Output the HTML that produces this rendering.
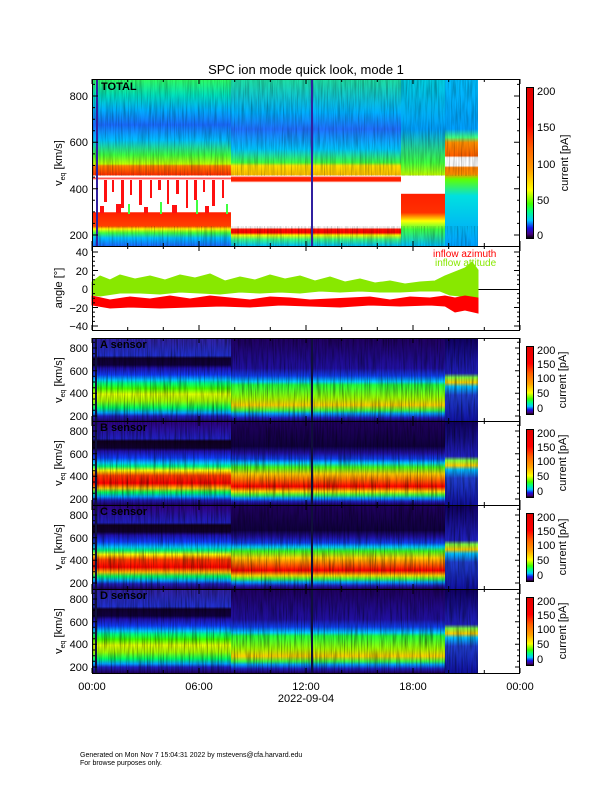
<!DOCTYPE html>
<html><head><meta charset="utf-8"><style>
body{margin:0;background:#fff;width:612px;height:792px;overflow:hidden}
svg{display:block}
text{font-family:"Liberation Sans",sans-serif;font-size:11px;fill:#000}
</style></head><body>
<svg width="612" height="792" viewBox="0 0 612 792" xmlns="http://www.w3.org/2000/svg">
<defs>
<linearGradient id="t1" x1="0" y1="0" x2="0" y2="1">
<stop offset="0" stop-color="#30ff60"/><stop offset=".10" stop-color="#00e0c0"/><stop offset=".186" stop-color="#00b0ff"/><stop offset=".275" stop-color="#1a6cff"/><stop offset=".365" stop-color="#00c0ff"/><stop offset=".455" stop-color="#40ff40"/><stop offset=".509" stop-color="#c0ff00"/><stop offset=".52" stop-color="#ff8000"/><stop offset=".575" stop-color="#ff3000"/><stop offset=".58" stop-color="#fff"/><stop offset=".588" stop-color="#fff"/><stop offset=".593" stop-color="#ff2020"/><stop offset=".605" stop-color="#fff"/><stop offset=".796" stop-color="#fff"/><stop offset=".8" stop-color="#ff2000"/><stop offset=".88" stop-color="#ff4000"/><stop offset=".898" stop-color="#ffff00"/><stop offset=".922" stop-color="#40ff40"/><stop offset=".952" stop-color="#00c0ff"/><stop offset="1" stop-color="#1a6cff"/></linearGradient>
<linearGradient id="t2" x1="0" y1="0" x2="0" y2="1">
<stop offset="0" stop-color="#20e0a0"/><stop offset=".2" stop-color="#00b0ff"/><stop offset=".3" stop-color="#2070ff"/><stop offset=".42" stop-color="#00c8ff"/><stop offset=".5" stop-color="#40ff40"/><stop offset=".52" stop-color="#ffe000"/><stop offset=".575" stop-color="#ffc000"/><stop offset=".58" stop-color="#fff"/><stop offset=".59" stop-color="#ff2000"/><stop offset=".61" stop-color="#ff2000"/><stop offset=".62" stop-color="#fff"/><stop offset=".89" stop-color="#fff"/><stop offset=".9" stop-color="#ff1000"/><stop offset=".92" stop-color="#ff0000"/><stop offset=".935" stop-color="#ffff00"/><stop offset=".96" stop-color="#40ff80"/><stop offset="1" stop-color="#00c0ff"/></linearGradient>
<linearGradient id="t3" x1="0" y1="0" x2="0" y2="1">
<stop offset="0" stop-color="#00d0e0"/><stop offset=".3" stop-color="#00a0ff"/><stop offset=".5" stop-color="#40ff40"/><stop offset=".575" stop-color="#c0ff00"/><stop offset=".58" stop-color="#fff"/><stop offset=".685" stop-color="#fff"/><stop offset=".69" stop-color="#ff2000"/><stop offset=".8" stop-color="#ff3000"/><stop offset=".85" stop-color="#ffff00"/><stop offset=".9" stop-color="#40ff40"/><stop offset="1" stop-color="#00c0ff"/></linearGradient>
<linearGradient id="t4" x1="0" y1="0" x2="0" y2="1">
<stop offset="0" stop-color="#00c0ff"/><stop offset=".3" stop-color="#00a0ff"/><stop offset=".35" stop-color="#40ff80"/><stop offset=".38" stop-color="#ff9000"/><stop offset=".46" stop-color="#ff6000"/><stop offset=".47" stop-color="#fff"/><stop offset=".52" stop-color="#fff"/><stop offset=".53" stop-color="#ff8000"/><stop offset=".57" stop-color="#ff9000"/><stop offset=".6" stop-color="#60ff00"/><stop offset=".7" stop-color="#00e0e0"/><stop offset="1" stop-color="#00a0ff"/></linearGradient>
<linearGradient id="sA1" x1="0" y1="0" x2="0" y2="1">
<stop offset="0" stop-color="#3020a0"/><stop offset=".21" stop-color="#2030d0"/><stop offset=".24" stop-color="#100030"/><stop offset=".32" stop-color="#100040"/><stop offset=".36" stop-color="#2010b0"/><stop offset=".44" stop-color="#1040ff"/><stop offset=".5" stop-color="#00c8ff"/><stop offset=".54" stop-color="#00ff80"/><stop offset=".6" stop-color="#40ff00"/><stop offset=".67" stop-color="#e0ff00"/><stop offset=".75" stop-color="#a0ff00"/><stop offset=".83" stop-color="#00ff60"/><stop offset=".89" stop-color="#00a0ff"/><stop offset=".93" stop-color="#2020c0"/><stop offset="1" stop-color="#200060"/></linearGradient>
<linearGradient id="sB1" x1="0" y1="0" x2="0" y2="1">
<stop offset="0" stop-color="#300080"/><stop offset=".21" stop-color="#2020c0"/><stop offset=".24" stop-color="#100020"/><stop offset=".32" stop-color="#100030"/><stop offset=".36" stop-color="#2010b0"/><stop offset=".44" stop-color="#1040ff"/><stop offset=".5" stop-color="#00c8ff"/><stop offset=".54" stop-color="#00ff80"/><stop offset=".59" stop-color="#ffff00"/><stop offset=".65" stop-color="#ff4000"/><stop offset=".74" stop-color="#ff0000"/><stop offset=".8" stop-color="#ffc000"/><stop offset=".85" stop-color="#00ff60"/><stop offset=".9" stop-color="#00a0ff"/><stop offset=".94" stop-color="#2020c0"/><stop offset="1" stop-color="#200060"/></linearGradient>
<linearGradient id="sA2" x1="0" y1="0" x2="0" y2="1">
<stop offset="0" stop-color="#200060"/><stop offset=".36" stop-color="#2010a0"/><stop offset=".45" stop-color="#1040f0"/><stop offset=".52" stop-color="#00d0ff"/><stop offset=".56" stop-color="#20ff40"/><stop offset=".71" stop-color="#a0ff00"/><stop offset=".8" stop-color="#ffd000"/><stop offset=".86" stop-color="#40ff40"/><stop offset=".9" stop-color="#00a0ff"/><stop offset=".95" stop-color="#2020c0"/><stop offset="1" stop-color="#200060"/></linearGradient>
<linearGradient id="sB2" x1="0" y1="0" x2="0" y2="1">
<stop offset="0" stop-color="#200060"/><stop offset=".3" stop-color="#100040"/><stop offset=".38" stop-color="#2010a0"/><stop offset=".45" stop-color="#1040f0"/><stop offset=".5" stop-color="#00d0ff"/><stop offset=".55" stop-color="#40ff20"/><stop offset=".63" stop-color="#ffd000"/><stop offset=".71" stop-color="#ff6000"/><stop offset=".78" stop-color="#ff0000"/><stop offset=".84" stop-color="#ffe000"/><stop offset=".88" stop-color="#40ff40"/><stop offset=".92" stop-color="#00a0ff"/><stop offset=".96" stop-color="#2020c0"/><stop offset="1" stop-color="#200060"/></linearGradient>
<linearGradient id="s3" x1="0" y1="0" x2="0" y2="1">
<stop offset="0" stop-color="#100060"/><stop offset=".42" stop-color="#2020c0"/><stop offset=".47" stop-color="#80ff40"/><stop offset=".53" stop-color="#ffd000"/><stop offset=".58" stop-color="#00c0ff"/><stop offset=".68" stop-color="#2040d0"/><stop offset="1" stop-color="#1010a0"/></linearGradient>
<linearGradient id="cb" x1="0" y1="0" x2="0" y2="1">
<stop offset="0" stop-color="#e00000"/><stop offset=".25" stop-color="#ff0000"/><stop offset=".4" stop-color="#ff6000"/><stop offset=".55" stop-color="#ffa000"/><stop offset=".68" stop-color="#ffff00"/><stop offset=".77" stop-color="#40ff00"/><stop offset=".82" stop-color="#00ff80"/><stop offset=".88" stop-color="#00c8ff"/><stop offset=".93" stop-color="#1414e6"/><stop offset=".97" stop-color="#460080"/><stop offset="1" stop-color="#000"/></linearGradient>
<filter id="nz" x="0" y="0" width="1" height="1">
<feTurbulence type="fractalNoise" baseFrequency="0.7 0.04" numOctaves="2" seed="3"/>
<feColorMatrix values="0 0 0 0 0  0 0 0 0 0  0 0 0 0 0  1.4 0 0 0 -0.55"/>
</filter>
<g id="xt" stroke="#000" stroke-width="1">
<path d="M92 0v5M127.7 0v3M163.3 0v3M199 0v5M234.7 0v3M270.3 0v3M306 0v5M341.7 0v3M377.3 0v3M413 0v5M448.7 0v3M484.3 0v3M520 0v5"/>
</g>
<g id="syt" stroke="#000" stroke-width="1">
<path d="M92 4.3h3M92 10h5M92 15.7h3M92 21.3h3M92 27h3M92 32.7h5M92 38.3h3M92 44h3M92 49.7h3M92 55.3h5M92 61h3M92 66.7h3M92 72.3h3M92 78h5"/>
<path d="M520 4.3h-3M520 10h-5M520 15.7h-3M520 21.3h-3M520 27h-3M520 32.7h-5M520 38.3h-3M520 44h-3M520 49.7h-3M520 55.3h-5M520 61h-3M520 66.7h-3M520 72.3h-3M520 78h-5"/>
</g>
</defs>

<text x="306" y="74" text-anchor="middle" style="font-size:13px">SPC ion mode quick look, mode 1</text>

<!-- TOTAL -->
<rect x="92" y="79" width="139" height="167" fill="url(#t1)"/>
<rect x="231" y="79" width="170" height="167" fill="url(#t2)"/>
<rect x="401" y="79" width="44" height="167" fill="url(#t3)"/>
<rect x="445" y="79" width="33" height="167" fill="url(#t4)"/>
<rect x="92" y="79" width="386" height="97" filter="url(#nz)" opacity=".45"/>
<rect x="92" y="226" width="386" height="20" filter="url(#nz)" opacity=".45"/>
<g fill="#ff1010">
<rect x="104" y="180" width="3" height="22"/><rect x="112" y="180" width="2" height="12"/><rect x="121" y="180" width="3" height="28"/><rect x="130" y="180" width="2" height="15"/><rect x="139" y="180" width="3" height="25"/><rect x="150" y="180" width="2" height="18"/><rect x="158" y="180" width="3" height="10"/><rect x="167" y="180" width="2" height="24"/><rect x="176" y="180" width="3" height="14"/><rect x="186" y="180" width="2" height="28"/><rect x="194" y="180" width="3" height="20"/><rect x="203" y="180" width="2" height="12"/><rect x="212" y="180" width="3" height="26"/><rect x="222" y="180" width="2" height="18"/>
<rect x="100" y="206" width="4" height="7"/><rect x="116" y="204" width="5" height="9"/><rect x="144" y="207" width="4" height="6"/><rect x="172" y="205" width="5" height="8"/><rect x="205" y="206" width="4" height="7"/>
</g>
<g fill="#40ff40"><rect x="128" y="204" width="2" height="10"/><rect x="160" y="202" width="2" height="12"/><rect x="196" y="200" width="2" height="14"/><rect x="226" y="204" width="2" height="10"/></g>
<rect x="96" y="79" width="2" height="167" fill="#3020a0"/>
<rect x="311" y="79" width="2" height="167" fill="#3020a0"/>

<!-- sensors -->
<g>
<rect x="92" y="338" width="139" height="84" fill="url(#sA1)"/><rect x="231" y="338" width="214" height="84" fill="url(#sA2)"/><rect x="445" y="338" width="33" height="84" fill="url(#s3)"/>
<rect x="92" y="421" width="139" height="84" fill="url(#sB1)"/><rect x="231" y="421" width="214" height="84" fill="url(#sB2)"/><rect x="445" y="421" width="33" height="84" fill="url(#s3)"/>
<rect x="92" y="505" width="139" height="84" fill="url(#sB1)"/><rect x="231" y="505" width="214" height="84" fill="url(#sB2)"/><rect x="445" y="505" width="33" height="84" fill="url(#s3)"/>
<rect x="92" y="589" width="139" height="84" fill="url(#sA1)"/><rect x="231" y="589" width="214" height="84" fill="url(#sA2)"/><rect x="445" y="589" width="33" height="84" fill="url(#s3)"/>
</g>
<rect x="92" y="338" width="386" height="335" filter="url(#nz)" opacity=".7"/>
<g fill="#10103a"><rect x="311" y="338" width="2" height="335"/><rect x="95" y="338" width="2" height="335"/></g>

<!-- angle panel -->
<line x1="92" y1="289.5" x2="520" y2="289.5" stroke="#000" stroke-width="1"/>
<polygon fill="#88e800" stroke="#88e800" stroke-linejoin="bevel" points="92,282 100,276 110,280 120,275 135,279 150,276 165,280 180,275 195,278 210,274 225,281 240,277 255,280 270,275 285,279 300,276 315,281 330,277 345,282 360,279 375,283 390,281 405,284 420,282 435,281 445,276 455,272 465,268 472,262 478,270 478,305 470,300 460,296 450,295 440,291 420,291 400,292 380,292 360,291 340,292 320,291 300,293 280,292 260,293 240,292 220,294 200,293 180,292 160,294 140,293 120,293 100,296 92,295"/>
<polygon fill="#ff0000" stroke="#ff0000" points="92,296 110,300 130,297 150,299 170,296 190,299 210,296 230,298 250,300 270,297 290,298 310,300 330,299 350,298 370,297 390,300 410,297 430,298 445,296 455,298 465,296 478,298 478,313 465,310 455,312 445,306 430,305 400,306 370,305 340,307 310,306 280,305 250,307 220,306 190,307 160,308 130,307 110,308 92,305"/>
<text x="433" y="257" style="font-size:10px;fill:#ff0000">inflow azimuth</text>
<text x="435" y="266" style="font-size:10px;fill:#88e800">inflow attitude</text>

<!-- frames -->
<g fill="none" stroke="#000" stroke-width="1">
<rect x="92.5" y="79.5" width="427" height="167"/>
<rect x="92.5" y="246.5" width="427" height="84"/>
<rect x="92.5" y="338.5" width="427" height="83"/>
<rect x="92.5" y="421.5" width="427" height="84"/>
<rect x="92.5" y="505.5" width="427" height="84"/>
<rect x="92.5" y="589.5" width="427" height="84"/>
<path d="M92 84.4h3M92 96h6M92 107.6h3M92 119.2h3M92 130.8h3M92 142.3h6M92 153.9h3M92 165.5h3M92 177.1h3M92 188.7h6M92 200.3h3M92 211.9h3M92 223.4h3M92 235h6"/>
<path d="M520 84.4h-3M520 96h-6M520 107.6h-3M520 119.2h-3M520 130.8h-3M520 142.3h-6M520 153.9h-3M520 165.5h-3M520 177.1h-3M520 188.7h-6M520 200.3h-3M520 211.9h-3M520 223.4h-3M520 235h-6"/>
<path d="M92 252h6M92 256.6h3M92 261.3h3M92 265.9h3M92 270.5h6M92 275.1h3M92 279.8h3M92 284.4h3M92 293.6h3M92 298.3h3M92 302.9h3M92 307.5h6M92 312.1h3M92 316.8h3M92 321.4h3M92 326h6"/>
<path d="M520 252h-6M520 256.6h-3M520 261.3h-3M520 265.9h-3M520 270.5h-6M520 275.1h-3M520 279.8h-3M520 284.4h-3M520 293.6h-3M520 298.3h-3M520 302.9h-3M520 307.5h-6M520 312.1h-3M520 316.8h-3M520 321.4h-3M520 326h-6"/>
</g>
<use href="#syt" transform="translate(0,338)"/><use href="#syt" transform="translate(0,421)"/><use href="#syt" transform="translate(0,505)"/><use href="#syt" transform="translate(0,589)"/>
<use href="#xt" transform="translate(0,246) scale(1,-1)"/><use href="#xt" transform="translate(0,79)"/>
<use href="#xt" transform="translate(0,330) scale(1,-1)"/><use href="#xt" transform="translate(0,246)"/>
<use href="#xt" transform="translate(0,421) scale(1,-1)"/><use href="#xt" transform="translate(0,338)"/>
<use href="#xt" transform="translate(0,505) scale(1,-1)"/><use href="#xt" transform="translate(0,421)"/>
<use href="#xt" transform="translate(0,589) scale(1,-1)"/><use href="#xt" transform="translate(0,505)"/>
<use href="#xt" transform="translate(0,673) scale(1,-1)"/><use href="#xt" transform="translate(0,589)"/>

<!-- colorbars -->
<g stroke="#000" stroke-width="1">
<rect x="526.5" y="87.5" width="7" height="151" fill="url(#cb)"/>
<rect x="526.5" y="346.5" width="7" height="68" fill="url(#cb)"/>
<rect x="526.5" y="429.5" width="7" height="68" fill="url(#cb)"/>
<rect x="526.5" y="513.5" width="7" height="68" fill="url(#cb)"/>
<rect x="526.5" y="597.5" width="7" height="68" fill="url(#cb)"/>
</g>

<!-- labels -->
<g text-anchor="end">
<text x="88" y="100">800</text><text x="88" y="146">600</text><text x="88" y="193">400</text><text x="88" y="239">200</text>
<text x="88" y="256">40</text><text x="88" y="275">20</text><text x="88" y="293">0</text><text x="88" y="312">−20</text><text x="88" y="330">−40</text>
<text x="88" y="352">800</text><text x="88" y="375">600</text><text x="88" y="397">400</text><text x="88" y="420">200</text>
<text x="88" y="435">800</text><text x="88" y="458">600</text><text x="88" y="480">400</text><text x="88" y="503">200</text>
<text x="88" y="519">800</text><text x="88" y="542">600</text><text x="88" y="564">400</text><text x="88" y="587">200</text>
<text x="88" y="603">800</text><text x="88" y="626">600</text><text x="88" y="648">400</text><text x="88" y="671">200</text>
</g>
<g style="font-weight:bold;font-size:10px">
<text x="101" y="90">TOTAL</text><text x="100" y="348">A sensor</text><text x="100" y="431">B sensor</text><text x="100" y="515">C sensor</text><text x="100" y="599">D sensor</text>
</g>
<g text-anchor="middle">
<text transform="translate(62,163) rotate(-90)">v<tspan style="font-size:7px" dy="3">eq</tspan><tspan dy="-3"> [km/s]</tspan></text>
<text transform="translate(62,288) rotate(-90)">angle [°]</text>
<text transform="translate(62,380) rotate(-90)">v<tspan style="font-size:7px" dy="3">eq</tspan><tspan dy="-3"> [km/s]</tspan></text>
<text transform="translate(62,463) rotate(-90)">v<tspan style="font-size:7px" dy="3">eq</tspan><tspan dy="-3"> [km/s]</tspan></text>
<text transform="translate(62,547) rotate(-90)">v<tspan style="font-size:7px" dy="3">eq</tspan><tspan dy="-3"> [km/s]</tspan></text>
<text transform="translate(62,631) rotate(-90)">v<tspan style="font-size:7px" dy="3">eq</tspan><tspan dy="-3"> [km/s]</tspan></text>
<text transform="translate(568,163) rotate(-90)">current [pA]</text>
<text transform="translate(566,380) rotate(-90)">current [pA]</text>
<text transform="translate(566,463) rotate(-90)">current [pA]</text>
<text transform="translate(566,547) rotate(-90)">current [pA]</text>
<text transform="translate(566,631) rotate(-90)">current [pA]</text>
<text x="92" y="690">00:00</text><text x="199" y="690">06:00</text><text x="306" y="690">12:00</text><text x="413" y="690">18:00</text><text x="520" y="690">00:00</text>
<text x="306" y="702">2022-09-04</text>
</g>
<g>
<text x="537" y="95">200</text><text x="537" y="131">150</text><text x="537" y="168">100</text><text x="537" y="204">50</text><text x="537" y="239">0</text>
<text x="537" y="354">200</text><text x="537" y="368">150</text><text x="537" y="382">100</text><text x="537" y="397">50</text><text x="537" y="412">0</text>
<text x="537" y="437">200</text><text x="537" y="451">150</text><text x="537" y="465">100</text><text x="537" y="480">50</text><text x="537" y="495">0</text>
<text x="537" y="521">200</text><text x="537" y="535">150</text><text x="537" y="549">100</text><text x="537" y="564">50</text><text x="537" y="579">0</text>
<text x="537" y="605">200</text><text x="537" y="619">150</text><text x="537" y="633">100</text><text x="537" y="648">50</text><text x="537" y="663">0</text>
</g>
<text x="80" y="757" style="font-size:7px">Generated on Mon Nov  7 15:04:31 2022 by mstevens@cfa.harvard.edu</text>
<text x="80" y="765" style="font-size:7px">For browse purposes only.</text>
</svg>
</body></html>
